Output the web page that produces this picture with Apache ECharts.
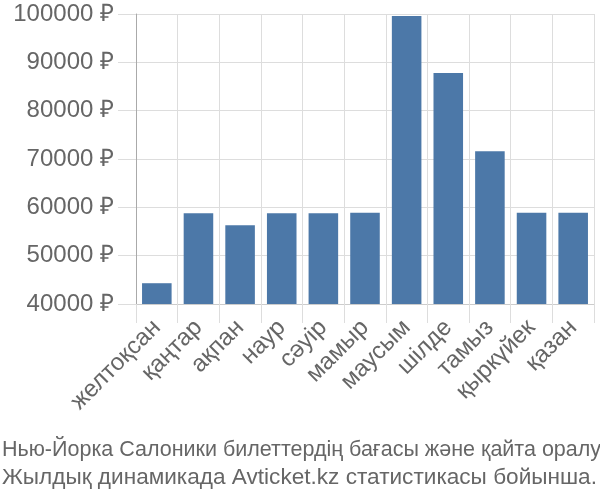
<!DOCTYPE html>
<html><head><meta charset="utf-8">
<script src="https://cdn.jsdelivr.net/npm/echarts@6/dist/echarts.min.js"></script>
<style>html,body{margin:0;padding:0;background:#fff}#c{width:600px;height:500px}</style>
</head><body><div id="c"></div>
<script>
const months = ['желтоқсан','қаңтар','ақпан','наур','сәуір','мамыр','маусым','шілде','тамыз','қыркүйек','қазан'];
const prices = [44300, 58800, 56300, 58800, 58800, 58900, 99600, 87800, 71600, 58900, 58900];
const yMin = 40000, yMax = 100000, yStep = 10000;
const titleLines = ['Нью-Йорка Салоники билеттердің бағасы және қайта оралу', 'Жылдық динамикада Avticket.kz статистикасы бойынша.'];

const chart = echarts.init(document.getElementById('c'));
chart.setOption({
  animation: false,
  textStyle: { fontFamily: 'Liberation Sans' },
  title: [{
    text: titleLines[0], left: -3, top: 431,
    textStyle: { fontSize: 21.5, fontWeight: 'normal', color: '#666', lineHeight: 28, fontFamily: 'Liberation Sans' }
  }, {
    text: titleLines[1], left: -3, top: 459,
    textStyle: { fontSize: 22.6, fontWeight: 'normal', color: '#666', lineHeight: 28, fontFamily: 'Liberation Sans' }
  }],
  grid: { left: 136, right: 6, top: 14, bottom: 196 },
  xAxis: {
    type: 'category', data: months, boundaryGap: true,
    axisLine: { lineStyle: { color: '#ccc' } },
    axisTick: { show: true, length: 19, lineStyle: { color: '#ddd' } },
    splitLine: { show: true, lineStyle: { color: '#ddd' } },
    axisLabel: { rotate: 45, fontSize: 24, color: '#666', margin: 20, interval: 0 }
  },
  yAxis: {
    type: 'value', min: yMin, max: yMax, interval: yStep,
    axisLine: { show: true, lineStyle: { color: '#aaa' } },
    axisTick: { show: true, length: 18, lineStyle: { color: '#ddd' } },
    splitLine: { lineStyle: { color: '#ddd' } },
    axisLabel: { formatter: function (v) { return v + ' ₽'; }, fontSize: 24, color: '#666', margin: 22 }
  },
  series: [{
    type: 'bar', data: prices, barCategoryGap: '29%',
    itemStyle: { color: '#4c78a8' }
  }]
});
</script></body></html>
